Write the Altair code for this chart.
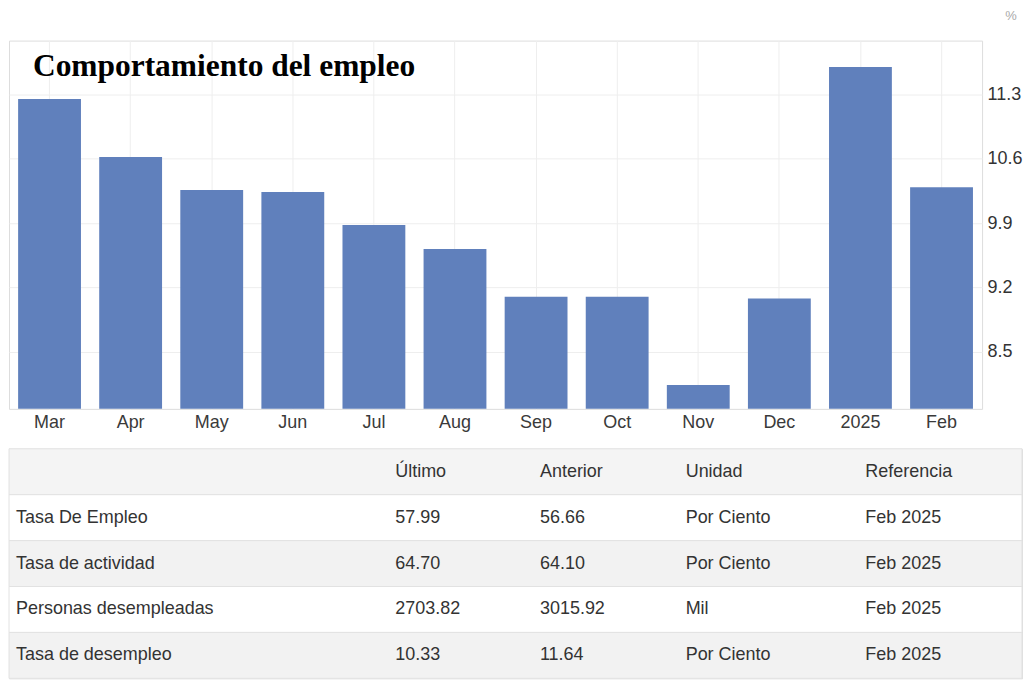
import altair as alt
import pandas as pd

# ---- data ----
months = ["Mar", "Apr", "May", "Jun", "Jul", "Aug", "Sep", "Oct", "Nov", "Dec", "2025", "Feb"]
rates = [11.25, 10.62, 10.26, 10.24, 9.88, 9.62, 9.10, 9.10, 8.14, 9.08, 11.60, 10.29]
y_ticks = [8.5, 9.2, 9.9, 10.6, 11.3]

title_text = "Comportamiento del empleo"
unit_text = "%"

header = ["", "Último", "Anterior", "Unidad", "Referencia"]
indicators = ["Tasa De Empleo", "Tasa de actividad", "Personas desempleadas", "Tasa de desempleo"]
ultimo = ["57.99", "64.70", "2703.82", "10.33"]
anterior = ["56.66", "64.10", "3015.92", "11.64"]
unidad = ["Por Ciento", "Por Ciento", "Mil", "Por Ciento"]
referencia = ["Feb 2025", "Feb 2025", "Feb 2025", "Feb 2025"]

# ---- layout / style ----
W, H = 975, 369
YMIN, YMAX = 7.88, 11.886
TW, ROWH = 1015, 46
BAR = "#6080bc"
TXT = "#333333"
GRID = "#eeeeee"
SANS = "Liberation Sans"

bars_df = pd.DataFrame({"month": months, "rate": rates, "base": [YMIN] * len(months)})

bars = alt.Chart(bars_df).mark_bar(color=BAR).encode(
    x=alt.X(
        "month:N", sort=months,
        scale=alt.Scale(paddingInner=0.225, paddingOuter=0.1125),
        axis=alt.Axis(title=None, labelAngle=0, ticks=False, domain=False, grid=True,
                      bandPosition=0.5, gridColor=GRID, labelFont=SANS, labelFontSize=18,
                      labelColor="#3a3a3a", labelPadding=5),
    ),
    y=alt.Y(
        "rate:Q",
        scale=alt.Scale(domain=[YMIN, YMAX], zero=False, nice=False),
        axis=alt.Axis(orient="right", title=None, values=y_ticks, format=".1f", ticks=False,
                      domain=False, gridColor=GRID, labelFont=SANS, labelFontSize=18,
                      labelColor=TXT, labelPadding=5),
    ),
    y2="base:Q",
)

title_layer = alt.Chart(pd.DataFrame({"t": [title_text]})).mark_text(
    font="Liberation Serif", fontWeight="bold", fontSize=31.5, color="#000000",
    align="left", baseline="alphabetic",
).encode(text="t:N", x=alt.value(24), y=alt.value(35))

unit_layer = alt.Chart(pd.DataFrame({"t": [unit_text]})).mark_text(
    font=SANS, fontSize=13, color="#aaaaaa", align="center", baseline="middle",
).encode(text="t:N", x=alt.value(1004), y=alt.value(-25))

top = alt.layer(bars, title_layer, unit_layer).properties(width=W, height=H)

# ---- table ----
row_ids = ["h", "r1", "r2", "r3", "r4"]
row_fill = ["#f4f4f4", "#ffffff", "#f2f2f2", "#ffffff", "#f2f2f2"]
columns = [
    [header[0]] + indicators,
    [header[1]] + ultimo,
    [header[2]] + anterior,
    [header[3]] + unidad,
    [header[4]] + referencia,
]
col_x = [7, 387, 532, 678, 858]

rows_df = pd.DataFrame({"row": row_ids})
yenc = alt.Y("row:N", sort=row_ids, scale=alt.Scale(paddingInner=0, paddingOuter=0), axis=None)

rects = alt.Chart(rows_df).mark_rect(stroke="#e2e2e2", strokeWidth=1).encode(
    y=yenc,
    x=alt.value(0), x2=alt.value(TW),
    color=alt.Color("row:N", scale=alt.Scale(domain=row_ids, range=row_fill), legend=None),
)

text_layers = []
for ci, vals in enumerate(columns):
    df = pd.DataFrame({"row": row_ids, "txt": vals})
    text_layers.append(
        alt.Chart(df).mark_text(font=SANS, fontSize=18, color=TXT, align="left", baseline="middle")
        .encode(y=yenc, x=alt.value(col_x[ci]), text="txt:N")
    )

table = alt.layer(rects, *text_layers).properties(width=TW, height=ROWH * len(row_ids))

chart = alt.vconcat(top, table, spacing=15).properties(padding=0).configure_view(
    stroke="#e8e8e8"
).configure(background="white")

chart.save("out.html", embed_options={"renderer": "svg", "actions": False})
